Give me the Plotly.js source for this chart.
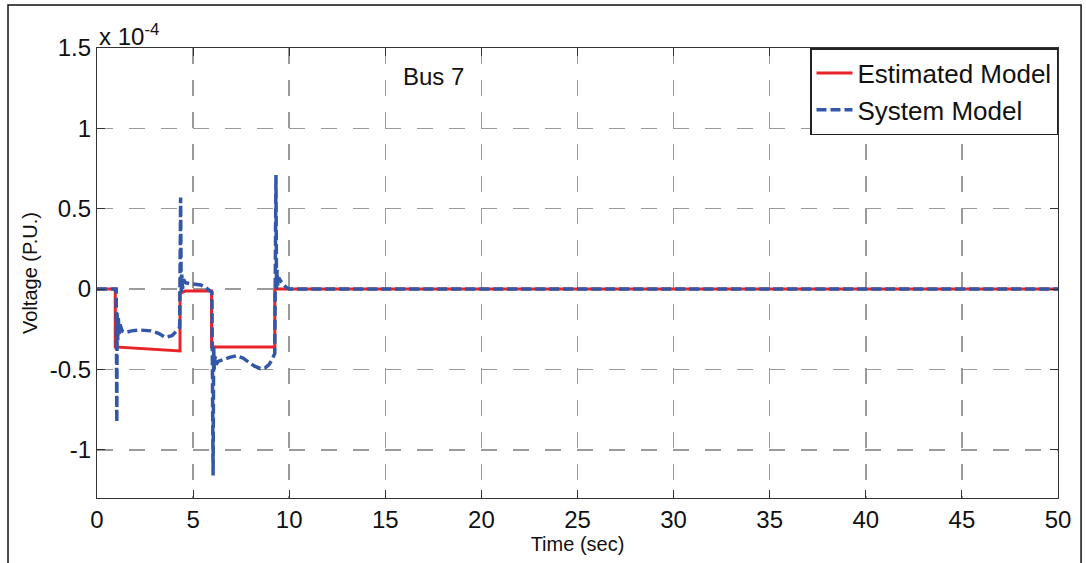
<!DOCTYPE html>
<html>
<head>
<meta charset="utf-8">
<script src="https://cdn.plot.ly/plotly-3.0.1.min.js"></script>
<style>
  html, body { margin: 0; padding: 0; background: #ffffff; }
  #chart { width: 1086px; height: 563px; }
</style>
</head>
<body>
<div id="chart"></div>
<script>
// Time (sec)
var estTime = [0, 0.95, 0.95, 2.5, 4.32, 4.32, 4.6, 5.96, 5.96, 9.25, 9.25, 50];
// Voltage (x 10^-4 P.U.)
var estVolt = [0, 0, -0.36, -0.37, -0.385, -0.025, -0.012, -0.012, -0.36, -0.36, 0, 0];

var sysTime = [0, 1.00, 1.03, 1.05, 1.08, 1.11, 1.15, 1.20, 1.30, 1.50, 1.80, 2.25, 2.80, 3.20, 3.55, 3.90, 4.15, 4.30,
  4.35, 4.38, 4.41, 4.45, 4.50, 4.60, 4.80, 5.10, 5.40, 5.70, 5.98,
  6.04, 6.07, 6.10, 6.14, 6.20, 6.30, 6.55, 6.90, 7.25, 7.60, 7.95, 8.20, 8.50, 8.75, 8.95, 9.10, 9.25,
  9.31, 9.34, 9.37, 9.41, 9.46, 9.55, 9.70, 9.85, 10.0, 50];
var sysVolt = [0, 0, -0.83, -0.15, -0.32, -0.18, -0.28, -0.22, -0.26, -0.27, -0.26, -0.255, -0.26, -0.275, -0.30, -0.29, -0.26, -0.24,
  0.57, -0.02, 0.09, 0.0, 0.06, 0.04, 0.035, 0.03, 0.025, 0.005, -0.02,
  -1.16, -0.35, -0.50, -0.42, -0.47, -0.45, -0.44, -0.425, -0.415, -0.43, -0.46, -0.48, -0.495, -0.49, -0.47, -0.44, -0.40,
  0.71, 0.0, 0.12, 0.02, 0.07, 0.05, 0.03, 0.01, 0, 0];

var xTickVals = [0, 5, 10, 15, 20, 25, 30, 35, 40, 45, 50];
var yTickVals = [-1, -0.5, 0, 0.5, 1, 1.5];
var yTickText = ['-1', '-0.5', '0', '0.5', '1', '1.5'];

var seriesNames = ['Estimated Model', 'System Model'];
var FONT = 'Liberation Sans, Arial, Helvetica, sans-serif';

var traces = [
  {
    x: estTime, y: estVolt, name: seriesNames[0], type: 'scatter', mode: 'lines',
    line: { color: '#e8232a', width: 3 }, hoverinfo: 'skip'
  },
  {
    x: sysTime, y: sysVolt, name: seriesNames[1], type: 'scatter', mode: 'lines',
    line: { color: '#3256a8', width: 3.5, dash: '10px,4px', simplify: false }, hoverinfo: 'skip'
  }
];

var axisCommon = {
  showline: true, linecolor: '#333333', linewidth: 1.2, mirror: 'ticks',
  ticks: 'inside', ticklen: 8, tickcolor: '#333333', tickwidth: 1,
  showgrid: true, gridcolor: '#9a9a9a', gridwidth: 1.5, griddash: '16px,16px',
  zeroline: false, tickfont: { family: FONT, size: 24, color: '#111111' },
  automargin: false
};

var layout = {
  width: 1086, height: 563,
  margin: { l: 97, r: 28, t: 48, b: 65 },
  paper_bgcolor: '#ffffff', plot_bgcolor: '#ffffff',
  font: { family: FONT, color: '#111111' },
  showlegend: true,
  xaxis: Object.assign({}, axisCommon, {
    range: [0, 50], tickmode: 'array', tickvals: xTickVals,
    title: { text: 'Time (sec)', font: { family: FONT, size: 20, color: '#111111' }, standoff: 4 }
  }),
  yaxis: Object.assign({}, axisCommon, {
    range: [-1.3, 1.5], tickmode: 'array', tickvals: yTickVals, ticktext: yTickText,
    title: { text: 'Voltage (P.U.)', font: { family: FONT, size: 20, color: '#111111' }, standoff: 6 }
  }),
  legend: {
    x: 1, xanchor: 'right', y: 1, yanchor: 'top',
    bgcolor: '#ffffff', bordercolor: '#222222', borderwidth: 1.5,
    font: { family: FONT, size: 26, color: '#111111' },
    itemwidth: 36, tracegroupgap: 0
  },
  annotations: [
    { text: 'x 10<sup>-4</sup>', xref: 'paper', yref: 'paper', x: 0, y: 1, xanchor: 'left', yanchor: 'bottom',
      showarrow: false, font: { family: FONT, size: 24, color: '#111111' }, xshift: 0, yshift: -4 },
    { text: 'Bus 7', xref: 'paper', yref: 'paper', x: 0.35, y: 0.9356, xanchor: 'center', yanchor: 'middle',
      showarrow: false, font: { family: FONT, size: 24, color: '#111111' } }
  ],
  shapes: [
    { type: 'rect', xref: 'paper', yref: 'paper', x0: -0.0926, x1: 1.024, y0: -0.3, y1: 1.0956,
      line: { color: '#111111', width: 1.5 }, fillcolor: 'rgba(0,0,0,0)' }
  ]
};

Plotly.newPlot('chart', traces, layout, { staticPlot: true, displayModeBar: false });
</script>
</body>
</html>
